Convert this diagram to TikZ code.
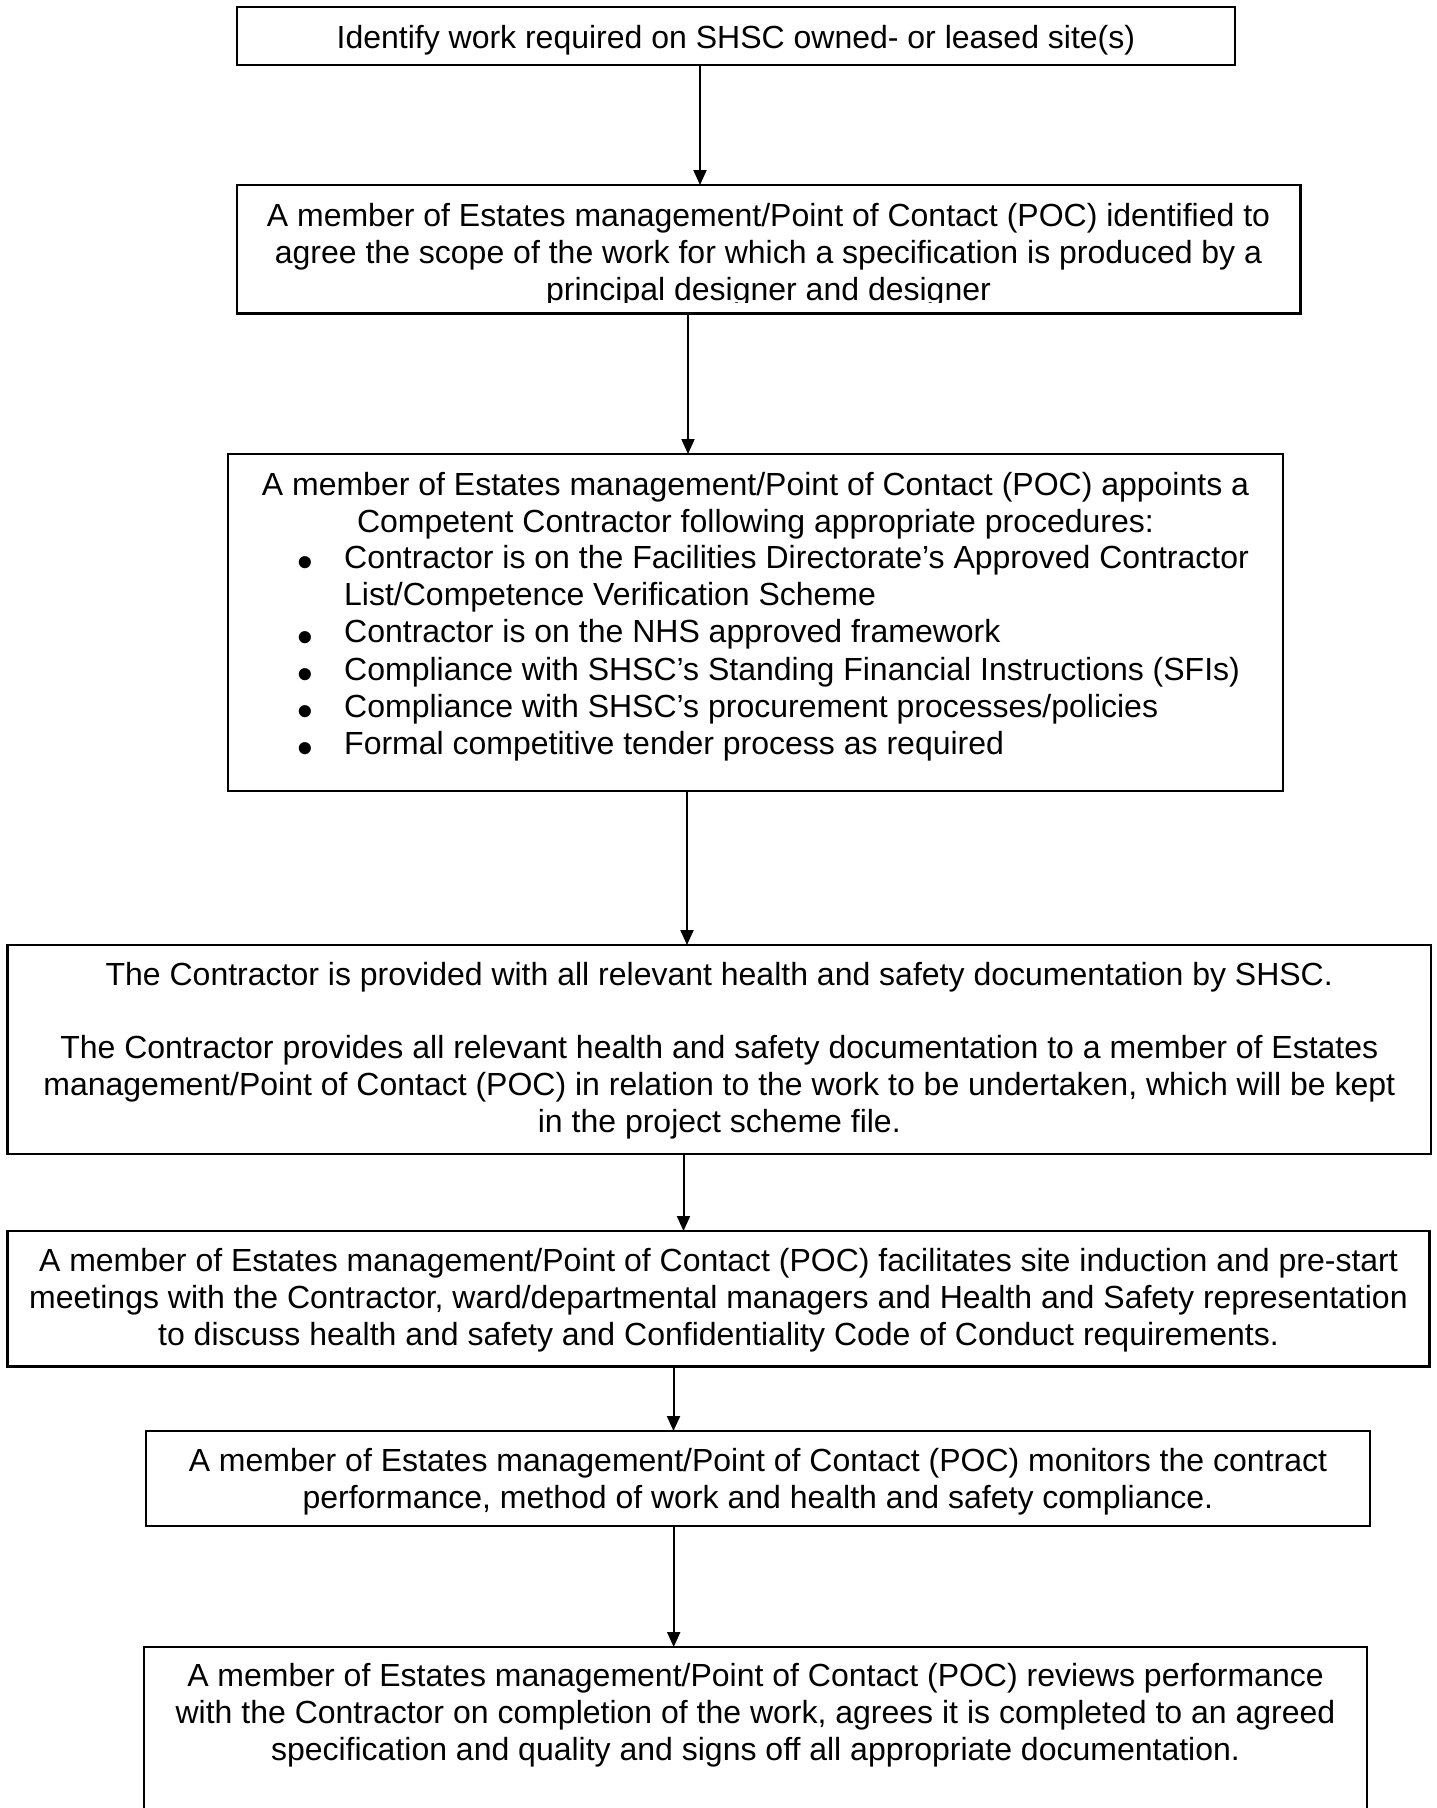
\documentclass[tikz,border=0pt]{standalone}
\usepackage{fontspec}
\setmainfont{Liberation Sans}
\usetikzlibrary{arrows.meta}
\newcommand{\bigbul}{\llap{\smash{\raisebox{-9.2pt}{\scalebox{1.4}{•}}}\hspace{30.6pt}}}
\begin{document}
\begin{tikzpicture}[x=1pt,y=-1pt,
  box/.style={draw=black, line width=2.4pt, inner sep=0pt, outer sep=0pt, anchor=north west, rectangle},
  txt/.style={font=\fontsize{32}{36.8}\selectfont, align=center, inner sep=0pt, anchor=north},
  txtb/.style={font=\fontsize{32}{37.14}\selectfont, inner sep=0pt},
  arr/.style={line width=2pt, -{Triangle[length=15pt,width=13pt]}}]
\clip (0,0) rectangle (1437,1808);
\fill[white] (0,0) rectangle (1437,1808);

% boxes
\node[box, minimum width=998.3pt,  minimum height=58pt]    (b1) at (236.7,6.7) {};
\node[box, minimum width=1063.6pt, minimum height=128.3pt] (b2) at (236.7,185) {};
\node[box, minimum width=1055pt,   minimum height=336.7pt] (b3) at (228,454) {};
\node[box, minimum width=1423.4pt, minimum height=209pt]   (b4) at (7.6,945) {};
\node[box, minimum width=1421.9pt, minimum height=135.5pt] (b5) at (7.6,1231) {};
\node[box, minimum width=1223.7pt, minimum height=94.7pt]  (b6) at (146,1431) {};
\node[box, minimum width=1223pt,   minimum height=220pt]   (b7) at (144,1647) {};

% texts
\node[txt] (t1) at (735.9,22.5) {\strut Identify work required on SHSC owned- or leased site(s)};

\coordinate (cut2) at (1300,302);
\begin{scope}
\clip (b2.north west) rectangle (cut2);
\node[txt] (t2) at (768.5,200.9) {\strut A member of Estates management/Point of Contact (POC) identified to\\
agree the scope of the work for which a specification is produced by a\\
principal designer and designer};
\end{scope}

\node[txtb, align=center, anchor=north] (t3) at (755.5,469) {\strut A member of Estates management/Point of Contact (POC) appoints a\\
Competent Contractor following appropriate procedures:};
\node[txtb, align=left, anchor=north west] (t3l) at (344,542.5) {\strut\bigbul Contractor is on the Facilities Directorate’s Approved Contractor\\
List/Competence Verification Scheme\\
\bigbul Contractor is on the NHS approved framework\\
\bigbul Compliance with SHSC’s Standing Financial Instructions (SFIs)\\
\bigbul Compliance with SHSC’s procurement processes/policies\\
\bigbul Formal competitive tender process as required};

\node[txt] (t4) at (719.3,959.2) {\strut The Contractor is provided with all relevant health and safety documentation by SHSC.\\[36.8pt]
The Contractor provides all relevant health and safety documentation to a member of Estates\\
management/Point of Contact (POC) in relation to the work to be undertaken, which will be kept\\
in the project scheme file.};

\node[txt] (t5) at (718.5,1245.9) {\strut A member of Estates management/Point of Contact (POC) facilitates site induction and pre-start\\
meetings with the Contractor, ward/departmental managers and Health and Safety representation\\
to discuss health and safety and Confidentiality Code of Conduct requirements.};

\node[txt] (t6) at (757.9,1445.9) {\strut A member of Estates management/Point of Contact (POC) monitors the contract\\
performance, method of work and health and safety compliance.};

\node[txt] (t7) at (755.5,1660.9) {\strut A member of Estates management/Point of Contact (POC) reviews performance\\
with the Contractor on completion of the work, agrees it is completed to an agreed\\
specification and quality and signs off all appropriate documentation.};

% connectors
\coordinate (x12) at (700,0);
\coordinate (x23) at (688,0);
\coordinate (x34) at (687,0);
\coordinate (x45) at (683.5,0);
\coordinate (x56) at (673.5,0);
\coordinate (x67) at (673.7,0);
\draw[arr] (b1.south -| x12) -- (b2.north -| x12);
\draw[arr] (b2.south -| x23) -- (b3.north -| x23);
\draw[arr] (b3.south -| x34) -- (b4.north -| x34);
\draw[arr] (b4.south -| x45) -- (b5.north -| x45);
\draw[arr] (b5.south -| x56) -- (b6.north -| x56);
\draw[arr] (b6.south -| x67) -- (b7.north -| x67);
\end{tikzpicture}
\end{document}
